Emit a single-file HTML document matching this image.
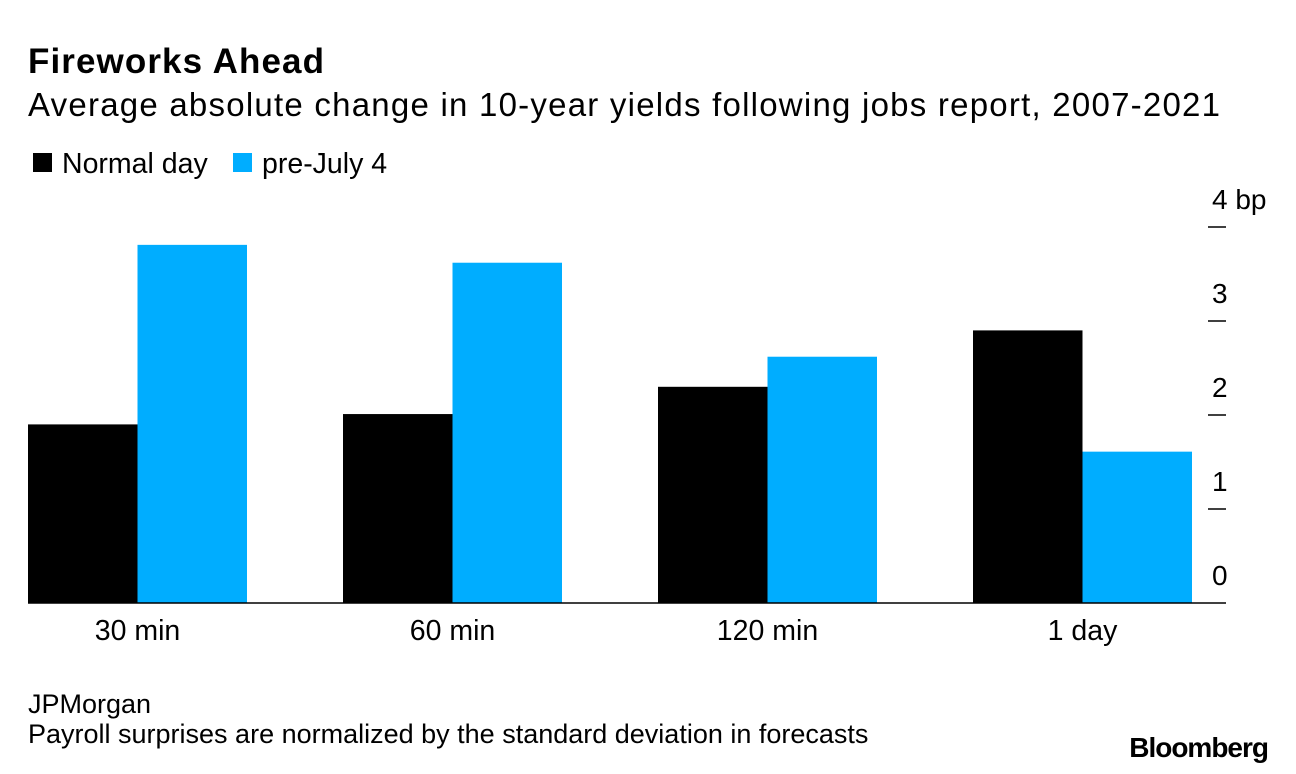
<!DOCTYPE html>
<html><head><meta charset="utf-8"><style>
body{margin:0;background:#fff;}
svg{display:block;font-family:"Liberation Sans",Arial,sans-serif;}
</style></head><body>
<svg width="1296" height="774" viewBox="0 0 1296 774">
<text x="28" y="73" font-size="35" font-weight="bold" fill="#000" textLength="296">Fireworks Ahead</text>
<text x="28" y="116" font-size="33" fill="#000" textLength="1192">Average absolute change in 10-year yields following jobs report, 2007-2021</text>
<g>
<rect x="33" y="153" width="19" height="19" fill="#000"/>
<text x="62" y="173" font-size="28.5">Normal day</text>
<rect x="233" y="153" width="19" height="19" fill="#00adff"/>
<text x="262" y="173" font-size="28.5">pre-July 4</text>
</g>
<g id="plot"></g>
<text x="28" y="713" font-size="27">JPMorgan</text>
<text x="28" y="743" font-size="27">Payroll surprises are normalized by the standard deviation in forecasts</text>
<text x="1268" y="757" font-size="28" font-weight="bold" text-anchor="end" letter-spacing="-1">Bloomberg</text>
</svg>
<script>
const categories=["30 min","60 min","120 min","1 day"];
const normalDay=[1.90,2.01,2.30,2.90];
const preJuly4=[3.81,3.62,2.62,1.61];
const yTicks=[0,1,2,3,4];
const yTickLabels=["0","1","2","3","4 bp"];

const NS="http://www.w3.org/2000/svg";
const g=document.getElementById('plot');
const y0=603, pxPer=94, xStart=28, groupW=315, barW=109.5;
const yScale=v=>y0-v*pxPer;
const xGroup=i=>xStart+i*groupW;
function mk(t,a){const e=document.createElementNS(NS,t);for(const k in a)e.setAttribute(k,a[k]);g.appendChild(e);return e;}
categories.forEach((c,i)=>{
  const b1=mk('rect',{x:xGroup(i),y:yScale(normalDay[i]),width:barW,height:normalDay[i]*pxPer,fill:'#000'});
  
  
  const b2=mk('rect',{x:xGroup(i)+barW,y:yScale(preJuly4[i]),width:barW,height:preJuly4[i]*pxPer,fill:'#00adff'});
  
  
  const t=mk('text',{x:xGroup(i)+barW,y:640,'font-size':28.5,'text-anchor':'middle'});
  t.textContent=c;
  
  
});
const ax=mk('line',{x1:28,x2:1226,y1:y0,y2:y0,stroke:'#000','stroke-width':1.5});


yTicks.forEach((v,i)=>{
  if(v>0){
    const l=mk('line',{x1:1208,x2:1226,y1:yScale(v),y2:yScale(v),stroke:'#000','stroke-width':1.5});
    
    
  }
  const t=mk('text',{x:1212,y:yScale(v)-18,'font-size':28});
  t.textContent=yTickLabels[i];
  
  
});
</script>
</body></html>
